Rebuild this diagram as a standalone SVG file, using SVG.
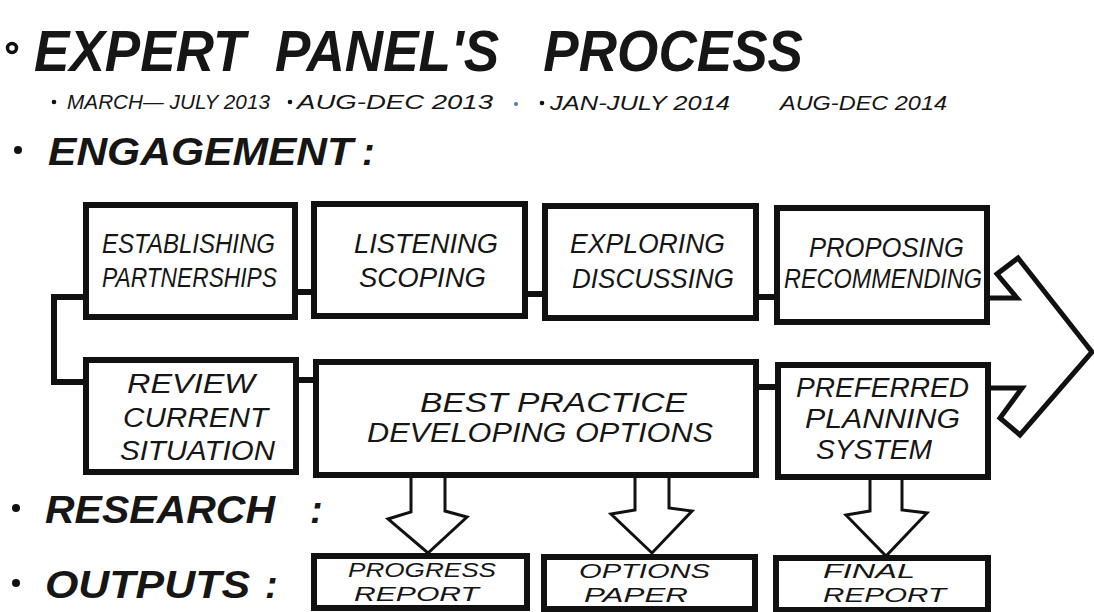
<svg xmlns="http://www.w3.org/2000/svg" width="1094" height="612" viewBox="0 0 1094 612">
<style>
text{font-family:"Liberation Sans",Arial,sans-serif;font-style:italic;fill:#161616}
.title{font-weight:bold;font-size:58px}
.date{font-size:20px}
.head{font-weight:bold;font-size:38px}
.lbl{font-size:27px}
.out{font-size:21px}
.box{fill:#fff;stroke:#111;stroke-width:6;stroke-linejoin:miter}
.con{fill:none;stroke:#111;stroke-width:6;stroke-linejoin:miter}
.big{fill:none;stroke:#111;stroke-width:5;stroke-linejoin:miter}
.dn{fill:#fff;stroke:#111;stroke-width:3;stroke-linejoin:miter}
.dot{fill:#111}
</style>
<rect width="1094" height="612" fill="#fff"/>
<g id="title">
<circle cx="12" cy="48" r="4.5" fill="none" stroke="#111" stroke-width="3.5"/>
<text class="title" x="34" y="71" textLength="769" lengthAdjust="spacingAndGlyphs" xml:space="preserve">EXPERT  PANEL'S   PROCESS</text>
</g>
<g id="dates">
<circle class="dot" cx="54" cy="102" r="2.3"/>
<text class="date" x="67" y="109" textLength="203" lengthAdjust="spacingAndGlyphs">MARCH— JULY 2013</text>
<circle class="dot" cx="290" cy="102" r="2.3"/>
<text class="date" x="297" y="109" textLength="196" lengthAdjust="spacingAndGlyphs">AUG-DEC 2013</text>
<circle cx="516" cy="104" r="2" fill="#4a78c0"/>
<circle class="dot" cx="542" cy="103" r="2.3"/>
<text class="date" x="550" y="110" textLength="180" lengthAdjust="spacingAndGlyphs">JAN-JULY 2014</text>
<text class="date" x="780" y="110" textLength="167" lengthAdjust="spacingAndGlyphs">AUG-DEC 2014</text>
</g>
<g id="heading-engagement">
<circle class="dot" cx="18" cy="150" r="4"/>
<text class="head" x="48" y="165" textLength="305" lengthAdjust="spacingAndGlyphs">ENGAGEMENT</text>
<text class="head" x="362" y="165">:</text>
</g>
<g id="heading-research">
<circle class="dot" cx="16" cy="508" r="4"/>
<text class="head" x="45" y="523" textLength="230" lengthAdjust="spacingAndGlyphs">RESEARCH</text>
<text class="head" x="310" y="523">:</text>
</g>
<g id="heading-outputs">
<circle class="dot" cx="16" cy="583" r="4"/>
<text class="head" x="45" y="598" textLength="205" lengthAdjust="spacingAndGlyphs">OUTPUTS</text>
<text class="head" x="265" y="598">:</text>
</g>
<g id="connectors">
<polyline class="con" points="86,297 54,297 54,382 86,382"/>
<line class="con" x1="295" y1="292" x2="314" y2="292"/>
<line class="con" x1="525" y1="294" x2="545" y2="294"/>
<line class="con" x1="756" y1="297" x2="777" y2="297"/>
<line class="con" x1="296" y1="380" x2="316" y2="380"/>
<line class="con" x1="756" y1="387" x2="778" y2="387"/>
<path class="big" d="M987,298 L1017,298 L997,274 L1018,258 L1092,352 L1020,435 L1000,418 L1022,388 L988,388"/>
<path class="dn" d="M411,476 L411,512 L388,519 L428,553 L467,517 L445,511 L445,476"/>
<path class="dn" d="M635,477 L635,510 L611,514 L652,553 L692,511 L669,508 L669,477"/>
<path class="dn" d="M870,478 L870,511 L846,515 L886,556 L927,513 L902,510 L902,478"/>
</g>
<g id="establishing">
<rect class="box" x="86" y="205" width="209" height="112"/>
<text class="lbl" x="102" y="253" textLength="173" lengthAdjust="spacingAndGlyphs">ESTABLISHING</text>
<text class="lbl" x="102" y="287" textLength="175" lengthAdjust="spacingAndGlyphs">PARTNERSHIPS</text>
</g>
<g id="listening">
<rect class="box" x="314" y="204" width="211" height="112"/>
<text class="lbl" x="354" y="253" textLength="144" lengthAdjust="spacingAndGlyphs">LISTENING</text>
<text class="lbl" x="359" y="287" textLength="127" lengthAdjust="spacingAndGlyphs">SCOPING</text>
</g>
<g id="exploring">
<rect class="box" x="545" y="206" width="211" height="112"/>
<text class="lbl" x="570" y="253" textLength="155" lengthAdjust="spacingAndGlyphs">EXPLORING</text>
<text class="lbl" x="572" y="288" textLength="162" lengthAdjust="spacingAndGlyphs">DISCUSSING</text>
</g>
<g id="proposing">
<rect class="box" x="777" y="208" width="210" height="114"/>
<text class="lbl" x="809" y="257" textLength="155" lengthAdjust="spacingAndGlyphs">PROPOSING</text>
<text class="lbl" x="784" y="288" textLength="198" lengthAdjust="spacingAndGlyphs">RECOMMENDING</text>
</g>
<g id="review">
<rect class="box" x="86" y="360" width="210" height="112"/>
<text class="lbl" x="127" y="393" textLength="128" lengthAdjust="spacingAndGlyphs">REVIEW</text>
<text class="lbl" x="123" y="427" textLength="145" lengthAdjust="spacingAndGlyphs">CURRENT</text>
<text class="lbl" x="120" y="460" textLength="155" lengthAdjust="spacingAndGlyphs">SITUATION</text>
</g>
<g id="best-practice">
<rect class="box" x="316" y="362" width="440" height="113"/>
<text class="lbl" x="420" y="412" textLength="267" lengthAdjust="spacingAndGlyphs">BEST PRACTICE</text>
<text class="lbl" x="367" y="442" textLength="346" lengthAdjust="spacingAndGlyphs">DEVELOPING OPTIONS</text>
</g>
<g id="preferred">
<rect class="box" x="778" y="365" width="210" height="112"/>
<text class="lbl" x="796" y="397" textLength="173" lengthAdjust="spacingAndGlyphs">PREFERRED</text>
<text class="lbl" x="805" y="428" textLength="155" lengthAdjust="spacingAndGlyphs">PLANNING</text>
<text class="lbl" x="816" y="459" textLength="116" lengthAdjust="spacingAndGlyphs">SYSTEM</text>
</g>
<g id="progress-report">
<rect class="box" x="314" y="556" width="213" height="52"/>
<text class="out" x="348" y="577" textLength="148" lengthAdjust="spacingAndGlyphs">PROGRESS</text>
<text class="out" x="354" y="601" textLength="125" lengthAdjust="spacingAndGlyphs">REPORT</text>
</g>
<g id="options-paper">
<rect class="box" x="544" y="557" width="211" height="52"/>
<text class="out" x="579" y="578" textLength="131" lengthAdjust="spacingAndGlyphs">OPTIONS</text>
<text class="out" x="584" y="602" textLength="104" lengthAdjust="spacingAndGlyphs">PAPER</text>
</g>
<g id="final-report">
<rect class="box" x="776" y="558" width="212" height="52"/>
<text class="out" x="823" y="578" textLength="92" lengthAdjust="spacingAndGlyphs">FINAL</text>
<text class="out" x="823" y="602" textLength="123" lengthAdjust="spacingAndGlyphs">REPORT</text>
</g>
</svg>
